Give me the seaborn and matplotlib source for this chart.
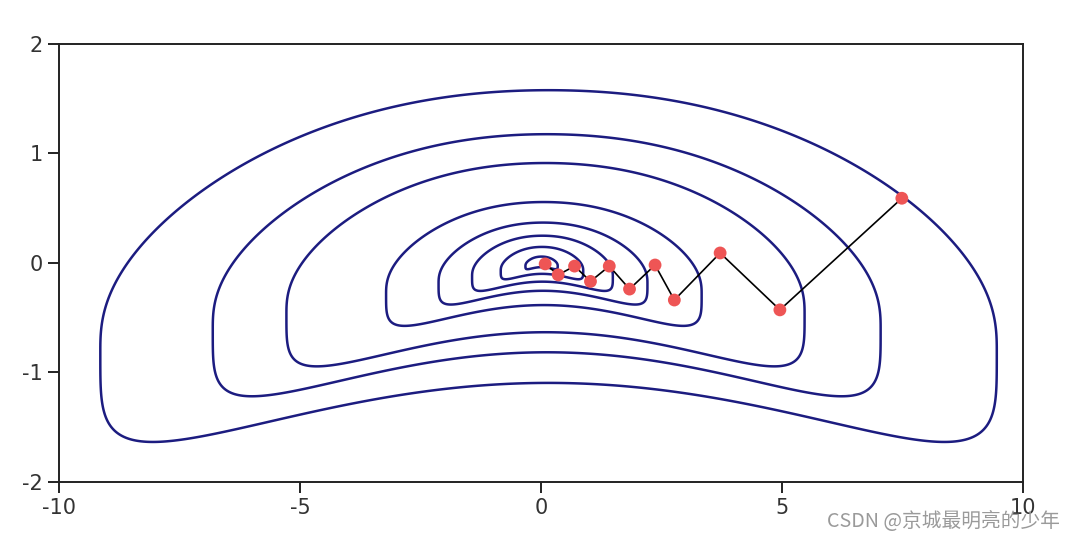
import numpy as np
import pandas as pd
import matplotlib
matplotlib.use("Agg")
import matplotlib.pyplot as plt
import seaborn as sns

# ---- data -------------------------------------------------------------
# gradient-descent path (start on the outer contour, converging to the minimum)
path_x = [7.48, 4.95, 3.71, 2.76, 2.36, 1.83, 1.41, 1.02, 0.69, 0.35, 0.08]
path_y = [0.59, -0.43, 0.09, -0.34, -0.02, -0.24, -0.03, -0.17, -0.03, -0.11, -0.01]

# contour levels of the loss surface (relative size of each closed contour)
contour_levels = [0.036, 0.092, 0.157, 0.233, 0.352, 0.578, 0.745, 1.0]

x_ticks = [-10, -5, 0, 5, 10]
y_ticks = [-2, -1, 0, 1, 2]
watermark = "CSDN @京城最明亮的少年"

# ---- banana-shaped loss surface --------------------------------------
A, X0, E, D, B = 9.3, 0.15, 0.24, 1.05, 1.3375
Q_TOP, Q_BOT = 2.75, 4.0


def unit_shape(x, y):
    u = (x - X0) / A
    w = (y - E + D * u ** 2) / B
    q = np.where(w > 0, Q_TOP, Q_BOT)
    return np.abs(u) ** q + np.abs(w) ** q


def loss(x, y):
    lo = np.full(x.shape, 1e-4)
    hi = np.full(x.shape, 10.0)
    for _ in range(60):
        mid = np.sqrt(lo * hi)
        inside = unit_shape(x / mid, y / mid) <= 1.0
        hi = np.where(inside, mid, hi)
        lo = np.where(inside, lo, mid)
    return np.sqrt(lo * hi)


# ---- plotting ---------------------------------------------------------
sns.set_theme(style="white")
plt.rcParams["font.family"] = ["DejaVu Sans"]
plt.rcParams["axes.unicode_minus"] = False

fig = plt.figure(figsize=(10.75, 5.38), dpi=100)
ax = fig.add_axes([0.0552, 0.1047, 0.8967, 0.8136])

xx, yy = np.meshgrid(np.linspace(-10, 10, 1001), np.linspace(-2, 2, 501))
zz = loss(xx, yy)
ax.contour(xx, yy, zz, levels=contour_levels, colors="#1c1c80", linewidths=1.8)

df = pd.DataFrame({"x": path_x, "y": path_y})
sns.lineplot(data=df, x="x", y="y", sort=False, estimator=None,
             color="black", linewidth=1.2, ax=ax, zorder=3)
sns.scatterplot(data=df, x="x", y="y", color="#ee5555", s=85,
                edgecolor="none", linewidth=0, ax=ax, zorder=4)

ax.set_xlim(-10, 10)
ax.set_ylim(-2, 2)
ax.set_xticks(x_ticks)
ax.set_yticks(y_ticks)
ax.set_xticklabels([str(t) for t in x_ticks])
ax.set_yticklabels([str(t) for t in y_ticks])
ax.set_xlabel("")
ax.set_ylabel("")
ax.tick_params(direction="out", length=8, width=1.4, colors="#222222",
               labelcolor="#333333", labelsize=15, pad=4,
               bottom=True, left=True, top=False, right=False)
for sp in ax.spines.values():
    sp.set_color("#222222")
    sp.set_linewidth(1.4)

fig.text(0.986, 0.030, watermark, ha="right", va="center", fontsize=14.2,
         color="#9a9a9a", family=["Noto Sans CJK SC", "DejaVu Sans"])

fig.savefig("out.png", dpi=100, facecolor="white")
